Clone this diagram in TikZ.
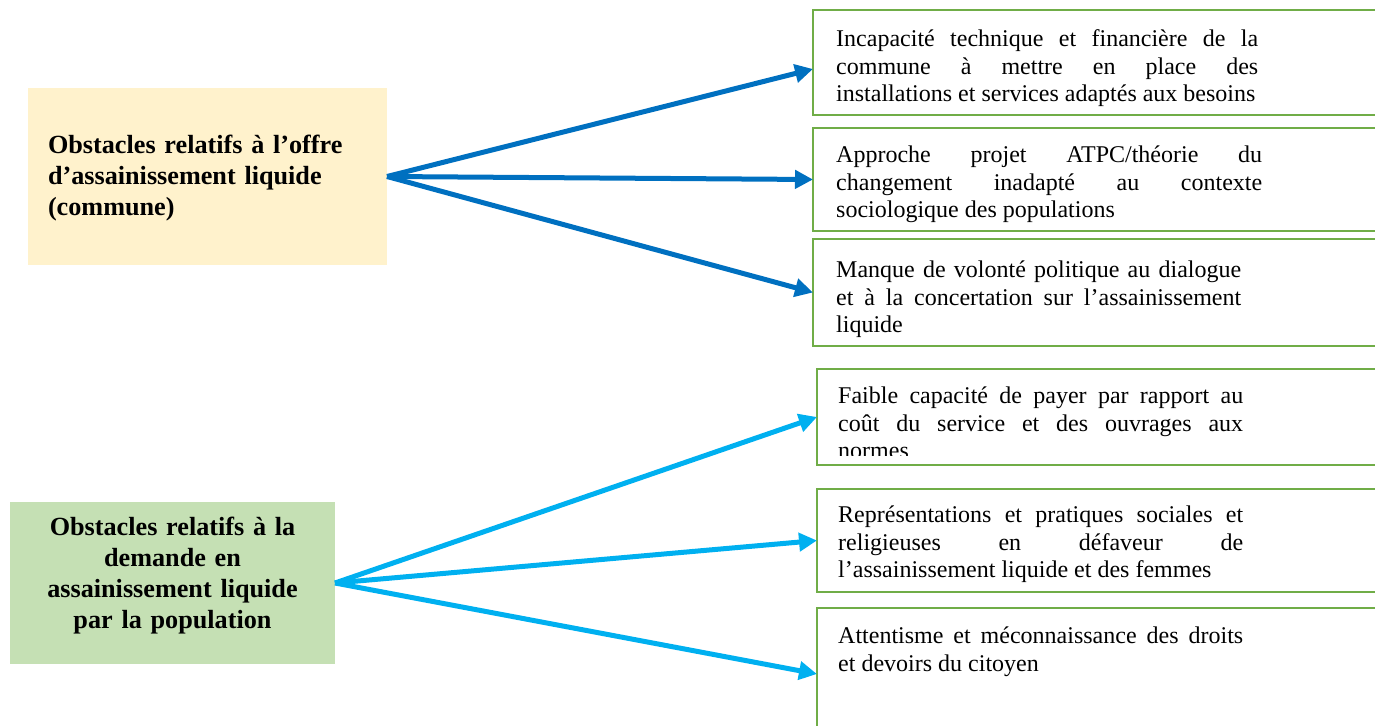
\documentclass[tikz,border=0pt]{standalone}
\usepackage{fontspec}
\setmainfont{Liberation Serif}
\usetikzlibrary{arrows.meta,calc}

\definecolor{offrefill}{HTML}{FFF2CC}
\definecolor{demandefill}{HTML}{C5E0B4}
\definecolor{cadre}{HTML}{70AD47}
\definecolor{bleuoffre}{HTML}{0070C0}
\definecolor{bleudemande}{HTML}{00B0F0}

\tolerance=9999
\hbadness=10000

\begin{document}
\begin{tikzpicture}[x=1pt,y=-1pt,
    cause/.style={draw=cadre, line width=2.5pt, inner sep=0pt, outer sep=0pt,
      minimum width=600pt, anchor=north west},
    detail/.style={anchor=north west, inner sep=0pt, align=justify,
      font=\fontsize{24}{27.6}\selectfont},
    titre/.style={inner sep=0pt, font=\bfseries\fontsize{26.2}{31}\selectfont},
    fleche/.style={line width=5pt, -{Triangle[length=18pt,width=18pt]}}]
  \useasboundingbox (0,0) rectangle (1375,725);
  \clip (0,0) rectangle (1375,725);

  % the two families of obstacles
  \node[fill=offrefill, minimum width=359pt, minimum height=177pt, inner sep=0pt, outer sep=0pt] (offre) at (207.5,176.5) {};
  \node[titre, align=left, text width=319pt] (offretxt) at ($(offre.center)+(0,2)$) {Obstacles relatifs à l’offre\\d’assainissement liquide\\(commune)};
  \node[fill=demandefill, minimum width=325pt, minimum height=162pt, inner sep=0pt, outer sep=0pt] (demande) at (172.5,583) {};
  \node[titre, align=center, text width=300pt] (demandetxt) at ($(demande.center)+(0,-7)$) {Obstacles relatifs à la\\demande en\\assainissement liquide\\par la population};

  % boxes on the right
  \node[cause, minimum height=105pt] (b1) at (813,10) {};
  \node[cause, minimum height=103pt] (b2) at (813,128) {};
  \node[cause, minimum height=107pt] (b3) at (813,239) {};
  \node[cause, minimum height=96pt] (b4) at (817,369) {};
  \node[cause, minimum height=103pt] (b5) at (817,489) {};
  \node[cause, minimum height=132pt] (b6) at (817,608) {};

  \node[detail, text width=422pt] (t1) at ($(b1.north west)+(23,17)$) {\strut Incapacité technique et financière de la\linebreak commune à mettre en place des\linebreak installations et services adaptés aux besoins};
  \node[detail, text width=426pt] (t2) at ($(b2.north west)+(23,15)$) {\strut Approche projet ATPC/théorie du\linebreak changement inadapté au contexte\linebreak sociologique des populations};
  \node[detail, text width=405pt] (t3) at ($(b3.north west)+(23,19)$) {\strut Manque de volonté politique au dialogue\linebreak et à la concertation sur l’assainissement\linebreak liquide};
  \begin{scope}
    \clip (817,369) rectangle (1375,455.5);
    \node[detail, text width=405pt] (t4) at ($(b4.north west)+(21,15)$) {\strut Faible capacité de payer par rapport au\linebreak coût du service et des ouvrages aux\linebreak normes};
  \end{scope}
  \node[detail, text width=405pt] (t5) at ($(b5.north west)+(21,14)$) {\strut Représentations et pratiques sociales et\linebreak religieuses en défaveur de\linebreak l’assainissement liquide et des femmes\parfillskip=0pt};
  \node[detail, text width=405pt] (t6) at ($(b6.north west)+(21,16)$) {\strut Attentisme et méconnaissance des droits\linebreak et devoirs du citoyen};

  % arrows
  \draw[fleche, bleuoffre] (offre.east) -- ($(b1.west)+(0,6.5)$);
  \draw[fleche, bleuoffre] (offre.east) -- (b2.west);
  \draw[fleche, bleuoffre] (offre.east) -- (b3.west);
  \draw[fleche, bleudemande] (demande.east) -- (b4.west);
  \draw[fleche, bleudemande] (demande.east) -- (b5.west);
  \draw[fleche, bleudemande] (demande.east) -- (b6.west);
\end{tikzpicture}
\end{document}
